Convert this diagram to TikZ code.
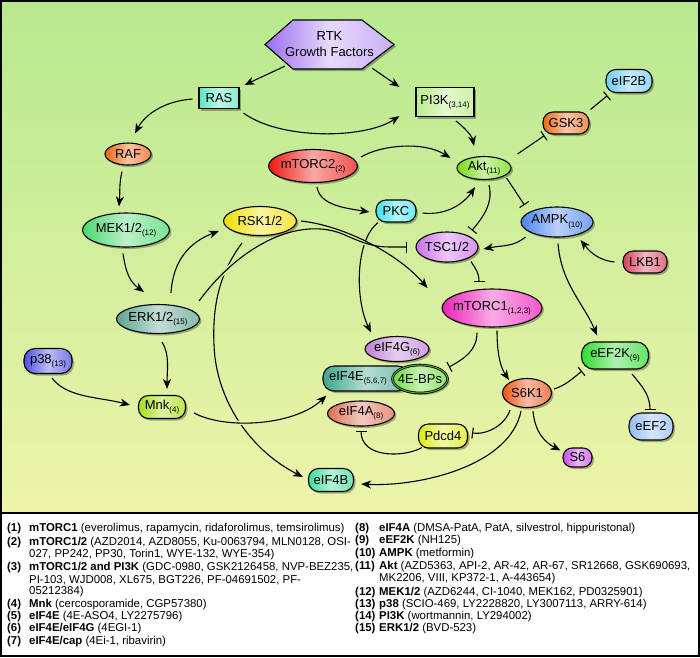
\documentclass[tikz,border=0pt]{standalone}
\usepackage{fontspec}
\setmainfont{Liberation Sans}
\usetikzlibrary{shapes.geometric,arrows.meta,shadows,calc}
\pgfdeclarelayer{bglayer}
\pgfdeclarelayer{edgelayer}
\pgfsetlayers{bglayer,edgelayer,main}

\definecolor{bgtop}{HTML}{B7E98F}
\definecolor{bgbot}{HTML}{EEF4AA}
\definecolor{haloA}{HTML}{D2EE9C}
\definecolor{haloB}{HTML}{E4F2A5}
\definecolor{rtkC}{HTML}{9B6CF0}
\definecolor{rasC}{HTML}{5AE6C0}
\definecolor{pikC}{HTML}{B8EE88}
\definecolor{rafC}{HTML}{F0640F}
\definecolor{mekC}{HTML}{4CD870}
\definecolor{mtcC}{HTML}{EE1A12}
\definecolor{rskC}{HTML}{F2DF00}
\definecolor{pkcC}{HTML}{3AE4F0}
\definecolor{aktC}{HTML}{74DC10}
\definecolor{gskC}{HTML}{EE6A14}
\definecolor{ebC}{HTML}{6CCCF4}
\definecolor{ampkC}{HTML}{4A84EE}
\definecolor{tscC}{HTML}{CC6EEE}
\definecolor{lkbC}{HTML}{D6405A}
\definecolor{mtoC}{HTML}{EE22BC}
\definecolor{eefkC}{HTML}{2EDC2E}
\definecolor{sixkC}{HTML}{EE5212}
\definecolor{eefC}{HTML}{92BCF4}
\definecolor{sixC}{HTML}{CC44EE}
\definecolor{pdcC}{HTML}{DCEC10}
\definecolor{fgC}{HTML}{BE80D4}
\definecolor{feC}{HTML}{3EA68C}
\definecolor{bpsC}{HTML}{6EDC3C}
\definecolor{faC}{HTML}{DE6E58}
\definecolor{fbC}{HTML}{3EDC9C}
\definecolor{erkC}{HTML}{5EA492}
\definecolor{pttC}{HTML}{4E4EE6}
\definecolor{mnkC}{HTML}{A6DE10}

\newcommand{\ndfont}{\fontsize{13}{16}\selectfont}
\newcommand{\lgfont}{\fontsize{11.4}{12}\selectfont}
\newcommand{\sbs}[1]{\raisebox{-0.5ex}{\fontsize{8}{8}\selectfont #1}}

\tikzset{
  base/.style={draw=black, line width=1.1pt, inner sep=0pt,
    drop shadow={shadow xshift=2pt, shadow yshift=-2pt, opacity=0.3, fill=black}},
  ell/.style={base, ellipse},
  pill/.style={base, rectangle, rounded corners=10pt},
  box/.style={base, rectangle},
  fc/.style={left color=#1, right color=#1!75!white, middle color=#1!38!white},
  every label/.style={font=\ndfont, inner sep=0pt},
  arr/.style={line width=1.1pt, -{Stealth[length=10pt,width=8pt,inset=3pt]}},
  inh/.style={line width=1.1pt, -{Bar[width=11pt,line width=1.1pt]}},
  halo/.style={preaction={draw, line width=4.5pt, color=#1, -}},
  lg/.style={anchor=west, inner sep=0pt, font=\lgfont},
}

\begin{document}
\begin{tikzpicture}[x=1pt,y=-1pt]
\useasboundingbox (0,0) rectangle (700,657);
\begin{pgfonlayer}{bglayer}
\shade[top color=bgtop, bottom color=bgbot] (1,1) rectangle (699,513);
\fill[white] (1,513) rectangle (699,656);
\end{pgfonlayer}

% RTK hexagon
\path[draw=black, line width=1.1pt, left color=rtkC, right color=rtkC!55!white, middle color=rtkC!25!white,
  drop shadow={shadow xshift=2pt, shadow yshift=-2pt, opacity=0.3, fill=black}]
  (265,44.5) -- (293,20) -- (362,20) -- (394,44.5) -- (362,69) -- (293,69) -- cycle;
\node[align=center, font=\ndfont, minimum width=129pt, minimum height=49pt, inner sep=0pt] (rtk) at (329.5,44.5) {RTK\\Growth Factors};

% nodes
\node[box, fc=rasC, minimum width=40pt, minimum height=21pt, label={center:RAS}] (ras) at (219,98) {};
\node[box, fc=pikC, minimum width=58pt, minimum height=29pt, label={center:{PI3K\sbs{(3,14)}}}] (pi3k) at (445,102) {};
\node[ell, fc=rafC, minimum width=46pt, minimum height=22pt, label={center:RAF}] (raf) at (128,154) {};
\node[ell, fc=mekC, minimum width=87pt, minimum height=34pt, label={center:{MEK1/2\sbs{(12)}}}] (mek) at (126,230) {};
\node[ell, fc=mtcC, minimum width=89pt, minimum height=33pt, label={center:{mTORC2\sbs{(2)}}}] (mtorc2) at (313,166) {};
\node[ell, fc=rskC, minimum width=73pt, minimum height=29pt, label={center:RSK1/2}] (rsk) at (260,221) {};
\node[pill, fc=pkcC, minimum width=40pt, minimum height=22pt, label={center:PKC}] (pkc) at (396,211) {};
\node[ell, fc=aktC, minimum width=54pt, minimum height=23pt, label={center:{Akt\sbs{(11)}}}] (akt) at (484,168) {};
\node[pill, fc=gskC, minimum width=46pt, minimum height=22pt, label={center:GSK3}] (gsk3) at (566,123) {};
\node[pill, fc=ebC, minimum width=46pt, minimum height=23pt, label={center:eIF2B}] (eif2b) at (629,81) {};
\node[ell, fc=ampkC, minimum width=72pt, minimum height=30pt, label={center:{AMPK\sbs{(10)}}}] (ampk) at (557,222) {};
\node[ell, fc=tscC, minimum width=62pt, minimum height=30pt, label={center:TSC1/2}] (tsc) at (447,247) {};
\node[pill, fc=lkbC, minimum width=44pt, minimum height=22pt, label={center:LKB1}] (lkb1) at (645,262) {};
\node[ell, fc=mtoC, minimum width=100pt, minimum height=38pt, label={center:{mTORC1\sbs{(1,2,3)}}}] (mtorc1) at (492,308) {};
\node[pill, fc=eefkC, minimum width=67pt, minimum height=27pt, rounded corners=12pt, label={center:{eEF2K\sbs{(9)}}}] (eef2k) at (615,355.5) {};
\node[ell, fc=sixkC, minimum width=49pt, minimum height=29pt, label={center:S6K1}] (s6k1) at (527,393) {};
\node[pill, fc=eefC, minimum width=44pt, minimum height=27pt, rounded corners=12pt, label={center:eEF2}] (eef2) at (651,426.5) {};
\node[pill, fc=sixC, minimum width=29pt, minimum height=19pt, rounded corners=9pt, label={center:S6}] (s6) at (577.5,457.5) {};
\node[pill, fc=pdcC, minimum width=49pt, minimum height=24pt, label={center:Pdcd4}] (pdcd4) at (443,436) {};
\node[ell, fc=fgC, minimum width=64pt, minimum height=25pt, label={center:{eIF4G\sbs{(6)}}}] (eif4g) at (397,349) {};
\node[pill, fc=feC, minimum width=86pt, minimum height=25pt, rounded corners=11pt] (eif4e) at (366,378.5) {};
\node[font=\ndfont, inner sep=0pt] (eif4et) at (358,378.5) {eIF4E\sbs{(5,6,7)}};
\node[ellipse, left color=bpsC, right color=bpsC!75!white, middle color=bpsC!38!white,
  draw=black, line width=0.8pt, double=bpsC!80!black, double distance=1pt, inner sep=0pt,
  drop shadow={shadow xshift=2pt, shadow yshift=-2pt, opacity=0.3, fill=black},
  minimum width=55pt, minimum height=28pt, label={center:4E-BPs}] (bps) at (420,379) {};
\node[ell, fc=faC, minimum width=67pt, minimum height=25pt, label={center:{eIF4A\sbs{(8)}}}] (eif4a) at (361,413.5) {};
\node[pill, fc=fbC, minimum width=45pt, minimum height=23pt, label={center:eIF4B}] (eif4b) at (331,480) {};
\node[ell, fc=erkC, minimum width=83pt, minimum height=29pt, label={center:{ERK1/2\sbs{(15)}}}] (erk) at (158,319) {};
\node[pill, fc=pttC, minimum width=48pt, minimum height=25pt, rounded corners=11pt, label={center:{p38\sbs{(13)}}}] (p38) at (48,361) {};
\node[pill, fc=mnkC, minimum width=47pt, minimum height=23pt, label={center:{Mnk\sbs{(4)}}}] (mnk) at (162,407) {};

% edges
\begin{pgfonlayer}{edgelayer}
\draw[arr] ($(rtk.south west)+(20,-3)$) -- ($(ras.north east)+(5,-2)$);
\draw[arr] ($(rtk.south east)+(-22,-1)$) -- ($(pi3k.north west)+(-16,0)$);
\draw[arr] ($(ras.west)+(-6,1)$) .. controls +(-28,2) and +(10,-19) .. ($(raf.north)+(7,-9)$);
\draw[arr] ($(ras.south east)+(4,4)$) .. controls +(37,27) and +(-35,23) .. ($(pi3k.south west)+(-16,-1)$);
\draw[arr] ($(raf.south)+(-6,6)$) .. controls +(-3,12) and +(1,-12) .. ($(mek.north)+(-7,-6)$);
\draw[arr] ($(mek.south)+(-3,6)$) .. controls +(3,20) and +(-14,-10) .. ($(erk.north)+(-14,-12)$);
\draw[arr] ($(erk.north)+(13,-11)$) .. controls +(2,-33) and +(-29,11) .. ($(rsk.west)+(-4,10)$);
\draw[arr] ($(rsk.south)+(-18,7)$) .. controls (222,270) and (212,300) .. (214,345) .. controls (216,400) and (250,450) .. ($(eif4b.west)+(-5,-3)$);
\draw[arr] ($(pkc.south)+(-18,0)$) .. controls +(-23,18) and +(-16,-33) .. ($(eif4g.north)+(-26,-3.5)$);
\draw[inh, halo=haloA] ($(erk.east)+(-1,-18)$) .. controls (240,245) and (300,215) .. (345,235) .. controls (365,244) and (375,247) .. (390,247) -- ($(tsc.west)+(-8,0)$);
\draw[arr] ($(rsk.east)+(4,0)$) .. controls +(45,5) and +(-28,-33) .. ($(mtorc1.west)+(-14,-20)$);
\draw[arr] ($(erk.south)+(4,8)$) .. controls +(8,12) and +(0,-18) .. ($(mnk.north)+(5,-6)$);
\draw[arr] ($(p38.south)+(4,4)$) .. controls +(15,20) and +(-30,-8) .. ($(mnk.west)+(-8,-2)$);
\draw[arr, halo=haloB] ($(mnk.east)+(8,6)$) .. controls +(32,17) and +(-32,30) .. ($(eif4e.south west)+(4,4)$);
\draw[arr] ($(mtorc2.east)+(3,-9)$) .. controls +(20,-12) and +(-27,-17) .. ($(akt.west)+(-6,-10)$);
\draw[arr] ($(mtorc2.south)+(4,4)$) .. controls +(3,18) and +(-25,-4) .. ($(pkc.west)+(-6,1)$);
\draw[arr] ($(pkc.east)+(6,2)$) .. controls +(25,3) and +(-10,15) .. ($(akt.south)+(-9,7)$);
\draw[arr] ($(pi3k.south)+(11,4)$) .. controls +(8,6) and +(-2,-10) .. ($(akt.north)+(-10,-10)$);
\draw[inh] ($(akt.east)+(6,-14)$) -- ($(gsk3.south west)+(2,1)$);
\draw[inh] ($(gsk3.north east)+(1,-2)$) -- ($(eif2b.south west)+(2,2.5)$);
\draw[inh] ($(akt.east)+(-5,10)$) -- ($(ampk.west)+(4,-17)$);
\draw[inh] ($(akt.south)+(5,5)$) .. controls +(5,20) and +(8,-10) .. ($(tsc.north)+(25,-1)$);
\draw[arr] ($(ampk.west)+(5,15)$) .. controls +(-12,10) and +(20,-4) .. ($(tsc.east)+(5,2)$);
\draw[arr] ($(lkb1.west)+(-8,0)$) .. controls +(-18,-2) and +(8,10) .. ($(ampk.east)+(-13,18)$);
\draw[arr] ($(ampk.south)+(1,6)$) .. controls +(3,40) and +(-12,-30) .. ($(eef2k.north west)+(16,-6)$);
\draw[inh] ($(tsc.south)+(24,-1)$) .. controls +(5,8) and +(0,-10) .. ($(mtorc1.north)+(-13,-6)$);
\draw[inh] ($(mtorc1.south)+(-15,5)$) .. controls +(0,18) and +(15,-8) .. ($(bps.east)+(1,-12)$);
\draw[arr] ($(mtorc1.south)+(5,3)$) .. controls +(0,25) and +(-8,-12) .. ($(s6k1.north)+(-18,2)$);
\draw[inh] ($(s6k1.east)+(2,-4)$) .. controls +(12,-4) and +(-10,8) .. ($(eef2k.south west)+(1,1.5)$);
\draw[inh] ($(eef2k.south)+(17,4.5)$) .. controls +(10,12) and +(0,-15) .. ($(eef2.north)+(-1,-2.5)$);
\draw[inh] ($(s6k1.south)+(-17,2)$) .. controls +(-5,15) and +(15,2) .. ($(pdcd4.east)+(4,-3)$);
\draw[arr] ($(s6k1.south)+(6,3)$) .. controls +(2,22) and +(-15,-8) .. ($(s6.west)+(-2,-7)$);
\draw[arr] ($(s6k1.south)+(-6,3)$) .. controls +(-11,55) and +(58,3) .. ($(eif4b.east)+(7,4)$);
\draw[inh] ($(pdcd4.south west)+(4,-1)$) .. controls +(-18,10) and +(0,28) .. ($(eif4a.south)+(0,4)$);
\end{pgfonlayer}

% frame and legend separator
\draw[line width=1.5pt] (1,513) -- (699,513);
\draw[line width=2pt] (1,1) rectangle (699,656);

% legend column 1
\node[lg] (n1) at (7,529) {\bfseries (1)};
\node[lg] (t1) at (29,529) {\textbf{mTORC1} (everolimus, rapamycin, ridaforolimus, temsirolimus)};
\node[lg] (n2) at (7,543) {\bfseries (2)};
\node[lg] (t2) at (29,543) {\textbf{mTORC1/2} (AZD2014, AZD8055, Ku-0063794, MLN0128, OSI-};
\node[lg] (t2b) at (29,555) {027, PP242, PP30, Torin1, WYE-132, WYE-354)};
\node[lg] (n3) at (7,568) {\bfseries (3)};
\node[lg] (t3) at (29,568) {\textbf{mTORC1/2 and PI3K} (GDC-0980, GSK2126458, NVP-BEZ235,};
\node[lg] (t3b) at (29,580) {PI-103, WJD008, XL675, BGT226, PF-04691502, PF-};
\node[lg] (t3c) at (29,592) {05212384)};
\node[lg] (n4) at (7,605) {\bfseries (4)};
\node[lg] (t4) at (29,605) {\textbf{Mnk} (cercosporamide, CGP57380)};
\node[lg] (n5) at (7,617) {\bfseries (5)};
\node[lg] (t5) at (29,617) {\textbf{eIF4E} (4E-ASO4, LY2275796)};
\node[lg] (n6) at (7,629) {\bfseries (6)};
\node[lg] (t6) at (29,629) {\textbf{eIF4E/eIF4G} (4EGI-1)};
\node[lg] (n7) at (7,642) {\bfseries (7)};
\node[lg] (t7) at (29,642) {\textbf{eIF4E/cap} (4Ei-1, ribavirin)};
% legend column 2
\node[lg] (n8) at (355,529) {\bfseries (8)};
\node[lg] (t8) at (379,529) {\textbf{eIF4A} (DMSA-PatA, PatA, silvestrol, hippuristonal)};
\node[lg] (n9) at (355,541) {\bfseries (9)};
\node[lg] (t9) at (379,541) {\textbf{eEF2K} (NH125)};
\node[lg] (n10) at (355,554) {\bfseries (10)};
\node[lg] (t10) at (379,554) {\textbf{AMPK} (metformin)};
\node[lg] (n11) at (355,567) {\bfseries (11)};
\node[lg] (t11) at (379,567) {\textbf{Akt} (AZD5363, API-2, AR-42, AR-67, SR12668, GSK690693,};
\node[lg] (t11b) at (379,579) {MK2206, VIII, KP372-1, A-443654)};
\node[lg] (n12) at (355,593) {\bfseries (12)};
\node[lg] (t12) at (379,593) {\textbf{MEK1/2} (AZD6244, CI-1040, MEK162, PD0325901)};
\node[lg] (n13) at (355,605) {\bfseries (13)};
\node[lg] (t13) at (379,605) {\textbf{p38} (SCIO-469, LY2228820, LY3007113, ARRY-614)};
\node[lg] (n14) at (355,617) {\bfseries (14)};
\node[lg] (t14) at (379,617) {\textbf{PI3K} (wortmannin, LY294002)};
\node[lg] (n15) at (355,629) {\bfseries (15)};
\node[lg] (t15) at (379,629) {\textbf{ERK1/2} (BVD-523)};
\end{tikzpicture}
\end{document}
